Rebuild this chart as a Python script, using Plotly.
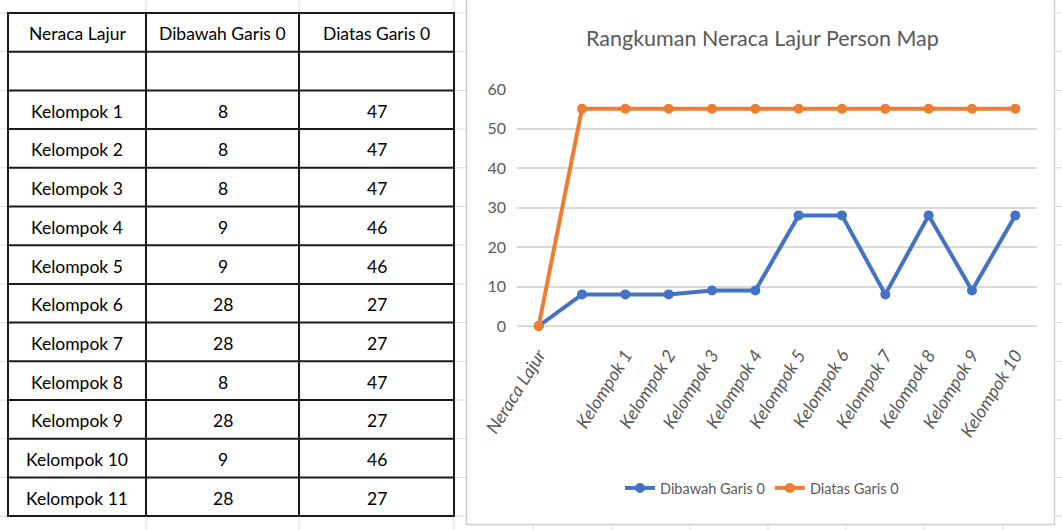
import plotly.graph_objects as go

# ---- data -------------------------------------------------------------
groups = [f"Kelompok {i}" for i in range(1, 12)]
below_zero = [8, 8, 8, 9, 9, 28, 28, 8, 28, 9, 28]      # Dibawah Garis 0
above_zero = [47, 47, 47, 46, 46, 27, 27, 47, 27, 46, 27]  # Diatas Garis 0

table_header = ["Neraca Lajur", "Dibawah Garis 0", "Diatas Garis 0"]

# chart categories: header row, blank row, then the groups (last one falls off)
chart_categories = ["Neraca Lajur", " "] + groups[:10]
chart_below = [0] + below_zero
chart_above = [0] + above_zero

W, H = 1062, 530
FONT = "Lato, Carlito, sans-serif"
GRAY_TXT = "#595959"
GRID = "#d9d9d9"
BLUE = "#4472C4"
ORANGE = "#ED7D31"


def px(x):
    return x / W


def py(y):
    return 1 - y / H


fig = go.Figure()

# ---- chart series (stacked lines) ---------------------------------------
fig.add_trace(go.Scatter(
    x=chart_categories, y=chart_below, name="Dibawah Garis 0",
    mode="lines+markers", stackgroup="s", fill="none",
    line=dict(color=BLUE, width=4), marker=dict(size=10, color=BLUE),
    cliponaxis=False,
))
fig.add_trace(go.Scatter(
    x=chart_categories, y=chart_above, name="Diatas Garis 0",
    mode="lines+markers", stackgroup="s", fill="none",
    line=dict(color=ORANGE, width=4), marker=dict(size=10, color=ORANGE),
    cliponaxis=False,
))

shapes = []
annotations = []

# ---- worksheet gridlines ------------------------------------------------
row_h = 38.7
tbl_top = 13
col_edges = [8, 146, 299, 454]
k = -1
while True:
    y = tbl_top + row_h * k
    if y > H:
        break
    shapes.append(dict(type="line", xref="paper", yref="paper",
                       x0=0, x1=1, y0=py(y), y1=py(y),
                       line=dict(color="#dcdcdc", width=1), layer="below"))
    k += 1
for x in [146, 299, 454, 533, 612, 690, 768, 846, 924, 1003]:
    shapes.append(dict(type="line", xref="paper", yref="paper",
                       x0=px(x), x1=px(x), y0=0, y1=1,
                       line=dict(color="#dcdcdc", width=1), layer="below"))

# ---- chart frame --------------------------------------------------------
shapes.append(dict(type="rect", xref="paper", yref="paper",
                   x0=px(466.5), x1=px(1054.5), y0=py(524.5), y1=py(-5),
                   fillcolor="white", line=dict(color="#d0d0d0", width=1.5),
                   layer="below"))

# ---- sheet table (bordered cells + centred text) -------------------------
table_rows = [table_header, ["", "", ""]] + [
    [g, str(b), str(a)] for g, b, a in zip(groups, below_zero, above_zero)
]
n = len(table_rows)
tbl_bottom = tbl_top + row_h * n
shapes.append(dict(type="rect", xref="paper", yref="paper",
                   x0=px(col_edges[0]), x1=px(col_edges[-1]),
                   y0=py(tbl_bottom), y1=py(tbl_top),
                   fillcolor="white", line=dict(width=0), layer="below"))
for r in range(n + 1):
    y = tbl_top + row_h * r
    shapes.append(dict(type="line", xref="paper", yref="paper",
                       x0=px(col_edges[0] - 1), x1=px(col_edges[-1] + 1),
                       y0=py(y), y1=py(y),
                       line=dict(color="#1a1a1a", width=2)))
for x in col_edges:
    shapes.append(dict(type="line", xref="paper", yref="paper",
                       x0=px(x), x1=px(x), y0=py(tbl_bottom), y1=py(tbl_top),
                       line=dict(color="#1a1a1a", width=2)))
for r, row in enumerate(table_rows):
    yc = tbl_top + row_h * (r + 0.5) + 1.5
    for c, txt in enumerate(row):
        if not txt:
            continue
        xc = (col_edges[c] + col_edges[c + 1]) / 2
        annotations.append(dict(text=txt, xref="paper", yref="paper",
                                x=px(xc), y=py(yc), xanchor="center",
                                yanchor="middle", showarrow=False,
                                font=dict(size=17.5, color="#000000", family=FONT)))

# ---- chart title --------------------------------------------------------
annotations.append(dict(text="Rangkuman Neraca Lajur Person Map",
                        xref="paper", yref="paper", x=px(762), y=py(38),
                        xanchor="center", yanchor="middle", showarrow=False,
                        font=dict(size=21.5, color=GRAY_TXT, family=FONT)))

fig.update_layout(
    width=W, height=H,
    margin=dict(l=0, r=0, t=0, b=0, autoexpand=False),
    paper_bgcolor="white",
    plot_bgcolor="rgba(0,0,0,0)",
    shapes=shapes,
    annotations=annotations,
    font=dict(family=FONT, color=GRAY_TXT),
    showlegend=True,
    legend=dict(orientation="h", x=px(762), y=py(488), xanchor="center",
                yanchor="middle", font=dict(size=14.5, color=GRAY_TXT),
                itemwidth=30, bgcolor="rgba(0,0,0,0)"),
    xaxis=dict(
        type="category", categoryorder="array", categoryarray=chart_categories,
        range=[-0.5, len(chart_categories) - 0.5],
        domain=[px(517), px(1037)], automargin=False,
        showgrid=False, showline=False, zeroline=False, ticks="",
        tickangle=-58, ticklabelstandoff=14,
        tickfont=dict(size=18, color=GRAY_TXT, style="italic"),
    ),
    yaxis=dict(
        range=[0, 60], dtick=10, domain=[py(326), py(89)], automargin=False,
        showgrid=True, gridcolor=GRID, gridwidth=1.5,
        zeroline=True, zerolinecolor=GRID, zerolinewidth=1.5,
        showline=False, ticks="", ticklabelstandoff=10,
        tickfont=dict(size=16, color=GRAY_TXT),
    ),
)

fig.write_html("out.html")
